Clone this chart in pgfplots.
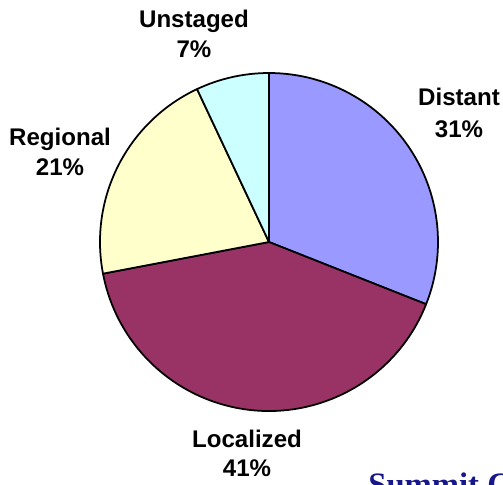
\documentclass[border=0pt]{standalone}
\usepackage{pgfplots}
\usepackage{pgfplotstable}
\usepackage{fontspec}
\pgfplotsset{compat=1.18}
\setmainfont{Liberation Sans}
\newfontfamily\summitfont{Liberation Serif}

\definecolor{cDistant}{HTML}{9999FF}
\definecolor{cLocalized}{HTML}{993366}
\definecolor{cRegional}{HTML}{FFFFCC}
\definecolor{cUnstaged}{HTML}{CCFFFF}
\definecolor{summitblue}{RGB}{24,24,140}

% stage, share in percent, fill, label position (x, baselines of the two lines)
\pgfplotstableread{
stage     pct color      lx  ly  lyy
Distant   31  cDistant   459 105 137
Localized 41  cLocalized 247 447 476
Regional  21  cRegional  60  145 175
Unstaged  7   cUnstaged  194 27  57
}\piedata

\begin{document}
\begin{tikzpicture}[
  lbl/.style={font=\bfseries\fontsize{13.7}{16}\selectfont, anchor=base, inner sep=0pt}
]
\begin{axis}[
  scale only axis,
  width=10.06cm, height=9.68cm,
  xmin=0, xmax=503, ymin=0, ymax=484,
  y dir=reverse,
  hide axis,
  clip=false
]
\pgfplotstablegetrowsof{\piedata}
\pgfmathtruncatemacro{\nrows}{\pgfplotsretval-1}
\gdef\startangle{90}
\foreach \i in {0,...,\nrows}{
  \pgfplotstablegetelem{\i}{stage}\of\piedata \let\stage\pgfplotsretval
  \pgfplotstablegetelem{\i}{pct}\of\piedata \let\pct\pgfplotsretval
  \pgfplotstablegetelem{\i}{color}\of\piedata \let\col\pgfplotsretval
  \pgfplotstablegetelem{\i}{lx}\of\piedata \let\lx\pgfplotsretval
  \pgfplotstablegetelem{\i}{ly}\of\piedata \let\ly\pgfplotsretval
  \pgfplotstablegetelem{\i}{lyy}\of\piedata \let\lyy\pgfplotsretval
  \pgfmathsetmacro{\endangle}{\startangle-3.6*\pct}
  \edef\temp{%
    \noexpand\filldraw[fill=\col, draw=black, line width=1pt, line join=round]
      (axis cs:269,242) -- ++(\startangle:3.38cm)
      arc[start angle=\startangle, end angle=\endangle, radius=3.38cm] -- cycle;
    \noexpand\node[lbl] at (axis cs:\lx,\ly) {\stage};
    \noexpand\node[lbl] at (axis cs:\lx,\lyy) {\pct\noexpand\%};
  }
  \temp
  \xdef\startangle{\endangle}
}
\node[anchor=base west, inner sep=0pt, text=summitblue,
      font=\summitfont\bfseries\fontsize{18.6}{22}\selectfont]
  at (axis cs:368,495) {Summit C};
\end{axis}
\pgfresetboundingbox
\path[use as bounding box] (current axis.south west) rectangle (current axis.north east);
\end{tikzpicture}
\end{document}
